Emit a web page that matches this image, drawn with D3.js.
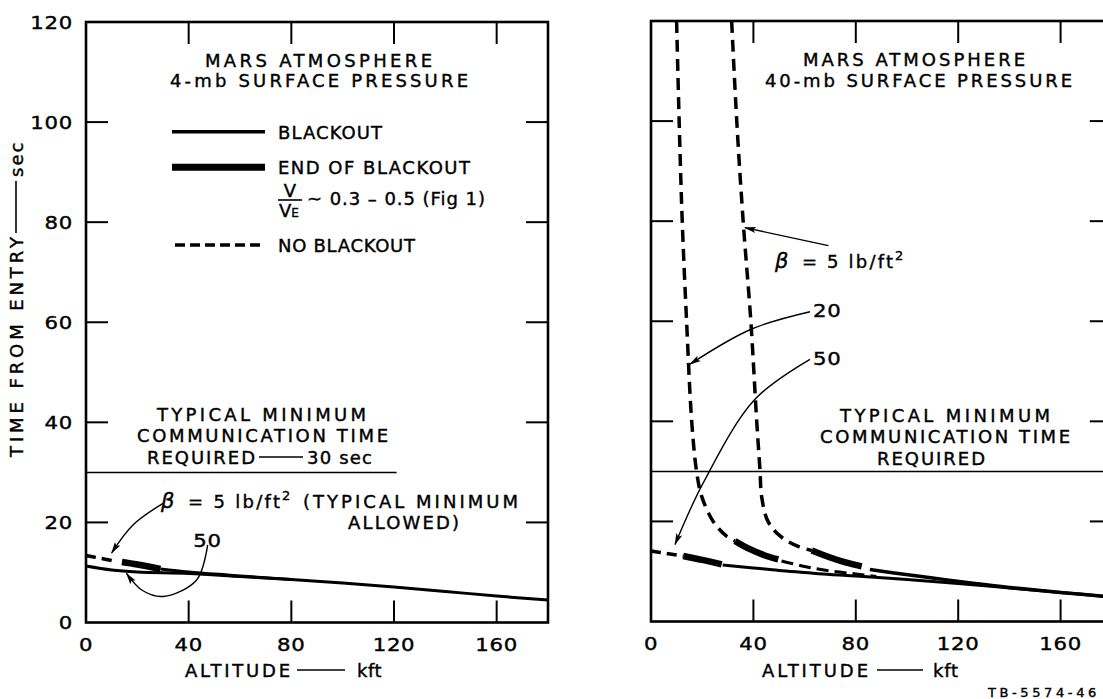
<!DOCTYPE html>
<html><head><meta charset="utf-8">
<script src="https://cdn.jsdelivr.net/npm/d3@7"></script>
<style>
body{margin:0;background:#fff;}
svg text{font-family:"DejaVu Sans",sans-serif;fill:#000;stroke:#000;stroke-width:0.4px;}
</style></head>
<body>
<svg id="chart" width="1103" height="699"></svg>
<script>
// ---------- data ----------
const altitudeTicks = [0, 40, 80, 120, 160];
const altitudeTickLabels = ["0", "40", "80", "120", "160"];
const timeTicks = [0, 20, 40, 60, 80, 100, 120];
const timeTickLabels = ["0", "20", "40", "60", "80", "100", "120"];
const requiredTime = 30;

// Left panel: 4-mb surface pressure  [altitude kft, time s]
const left_b50_blackout = [[0,11.3],[10,10.5],[20,10.1],[40,9.8],[60,9.2],[80,8.6],[100,7.9],[120,7.1],[140,6.2],[160,5.3],[180,4.5]];
const left_b5_noBlackout = [[0,13.4],[6,12.8],[11,12.3]];
const left_b5_endBlackout = [[14,12.1],[20,11.6],[29,10.7]];
const left_b5_blackout = [[29,10.7],[40,10.1],[55,9.5],[70,8.95],[80,8.6]];
const left_requiredLine = [[0,requiredTime],[121,requiredTime]];

// Right panel: 40-mb surface pressure
const right_b5_noBlackout = [[31.5,120],[33.5,100],[36,80],[39,60],[41.3,40],[42.6,30],[43.2,25],[45.7,20],[50.4,17.1],[57,15.1],[62.8,14.2]];
const right_b5_endBlackout = [[62.8,14.2],[70,12.8],[76,11.8],[82.3,11.0]];
const right_b5_blackout = [[85.5,10.4],[95,9.7],[110,8.7],[125,7.7],[140,6.8],[160,5.8],[180,4.9]];
const right_b20_noBlackout = [[10,120],[11,100],[12.2,80],[13.9,60],[15.9,40],[17.8,30],[19.8,25],[24.3,20],[29.6,17],[32.8,16.1]];
const right_b20_endBlackout = [[32.8,16.1],[38,14.6],[44,13.3],[49.7,12.4]];
const right_b20_tail = [[51,12.1],[60,11.0],[70,10.1],[80,9.5],[88,9.0]];
const right_b50_noBlackout = [[0,14.1],[6,13.6],[12.6,13.1]];
const right_b50_endBlackout = [[12.6,13.1],[20,12.3],[27.6,11.4]];
const right_b50_blackout = [[28,11.3],[40,10.7],[50,10.2],[60,9.8],[70,9.4],[80,9.1],[100,8.4],[120,7.6],[140,6.7],[160,5.8],[180,4.9]];
const right_requiredLine = [[0,requiredTime],[180,requiredTime]];

// annotation arrows (data units)
const left_arrow_b5 = [[30,23.8],[18.3,19.5],[10,13.9]];
const left_arrow_50 = [[47.4,15.5],[43.1,8.5],[30.1,5.2],[21.7,6.5],[15.8,9.8]];
const right_arrow_b5 = [[69.3,75.1],[36.7,78.7]];
const right_arrow_20 = [[62.1,61.9],[39.1,58.4],[15.2,51.4]];
const right_arrow_50 = [[62.1,52.4],[40.6,44.4],[20.4,27.7],[9.4,15.4]];

// ---------- drawing ----------
const svg = d3.select("#chart");
const defs = svg.append("defs");
defs.append("marker").attr("id","arrow").attr("viewBox","0 0 12 8")
  .attr("refX",11).attr("refY",4).attr("markerWidth",12).attr("markerHeight",8)
  .attr("markerUnits","userSpaceOnUse").attr("orient","auto")
  .append("path").attr("d","M0,0.8 L12,4 L0,7.2 L2.5,4 Z").attr("fill","#000");

const FS = 18;

function panel(x0, x1, y0, y1) {
  const x = d3.scaleLinear().domain([0,180]).range([x0,x1]);
  const y = d3.scaleLinear().domain([0,120]).range([y0,y1]);
  return {x, y};
}
const L = panel(86, 548, 622.5, 22);
const R = panel(651, 1111.8, 621.5, 21);

// numeric text, slightly widened glyphs like the lettering guide
function num(parent, x, y, s, anchor) {
  return parent.append("text").attr("transform",`translate(${x},${y}) scale(1.18,1)`)
    .attr("font-size",FS).attr("letter-spacing",0.6).attr("text-anchor",anchor||"start").text(s);
}

function frame(p, withYLabels) {
  const g = svg.append("g");
  const [xa,xb] = p.x.range(), [ya,yb] = p.y.range();
  g.append("rect").attr("x",xa).attr("y",yb).attr("width",xb-xa).attr("height",ya-yb)
    .attr("fill","none").attr("stroke","#000").attr("stroke-width",2.6);
  const tl = 22;
  altitudeTicks.filter(d=>d>0).forEach(d=>{
    g.append("line").attr("x1",p.x(d)).attr("x2",p.x(d)).attr("y1",ya).attr("y2",ya-tl).attr("stroke","#000").attr("stroke-width",2);
    g.append("line").attr("x1",p.x(d)).attr("x2",p.x(d)).attr("y1",yb).attr("y2",yb+tl).attr("stroke","#000").attr("stroke-width",2);
  });
  timeTicks.filter(d=>d>0 && d<120).forEach(d=>{
    g.append("line").attr("x1",xa).attr("x2",xa+tl).attr("y1",p.y(d)).attr("y2",p.y(d)).attr("stroke","#000").attr("stroke-width",2);
    g.append("line").attr("x1",xb).attr("x2",xb-tl).attr("y1",p.y(d)).attr("y2",p.y(d)).attr("stroke","#000").attr("stroke-width",2);
  });
  altitudeTicks.forEach((d,i)=>{
    num(g, p.x(d), ya+28, altitudeTickLabels[i], "middle");
  });
  if (withYLabels) {
    timeTicks.forEach((d,i)=>{
      num(g, xa-13, p.y(d)+6.5, timeTickLabels[i], "end");
    });
  }
}
frame(L, true);
frame(R, false);

function curve(p, data, w, dash, curveType) {
  const line = d3.line().x(d=>p.x(d[0])).y(d=>p.y(d[1])).curve(curveType || d3.curveCatmullRom);
  const path = svg.append("path").attr("d", line(data)).attr("fill","none")
    .attr("stroke","#000").attr("stroke-width",w).attr("stroke-linecap","butt");
  if (dash) path.attr("stroke-dasharray", dash);
  return path;
}
function arrow(p, data) {
  curve(p, data, 1.4, null).attr("marker-end","url(#arrow)");
}

// required time lines
curve(L, left_requiredLine, 1.5, null, d3.curveLinear);
curve(R, right_requiredLine, 1.5, null, d3.curveLinear);

// left curves
curve(L, left_b50_blackout, 3);
curve(L, left_b5_blackout, 3);
curve(L, left_b5_noBlackout, 3.5, "10 6");
curve(L, left_b5_endBlackout, 6.5);

// right curves
curve(R, right_b50_blackout, 3);
curve(R, right_b50_noBlackout, 3.5, "10 6");
curve(R, right_b50_endBlackout, 6.5);
curve(R, right_b20_noBlackout, 3.5, "12 7");
curve(R, right_b20_endBlackout, 6.5);
curve(R, right_b20_tail, 3, "12 6");
curve(R, right_b5_noBlackout, 3.5, "12 7");
curve(R, right_b5_endBlackout, 6.5);
curve(R, right_b5_blackout, 3.5);

// arrows
arrow(L, left_arrow_b5);
arrow(L, left_arrow_50);
arrow(R, right_arrow_b5);
arrow(R, right_arrow_20);
arrow(R, right_arrow_50);

// ---------- text ----------
function txt(x, y, s, w, opts={}) {
  const t = svg.append("text").attr("x",x).attr("y",y).attr("font-size",opts.fs||FS).text(s);
  if (w) t.attr("textLength", w).attr("lengthAdjust","spacing");
  if (opts.anchor) t.attr("text-anchor", opts.anchor);
  if (opts.ls !== undefined) t.attr("letter-spacing", opts.ls);
  return t;
}
function hline(x1, x2, y, w) {
  svg.append("line").attr("x1",x1).attr("x2",x2).attr("y1",y).attr("y2",y).attr("stroke","#000").attr("stroke-width",w||1.6);
}
function beta(x, y) {
  svg.append("text").attr("x",x).attr("y",y).attr("font-size",21)
    .attr("font-style","italic").text("β");
}

// left titles
txt(205, 67, "MARS ATMOSPHERE", 227);
txt(170, 87, "4-mb SURFACE PRESSURE", 298);
// legend
hline(172, 265, 131.7, 3.5);
txt(278, 139, "BLACKOUT", 104);
hline(172, 265, 167.3, 7);
txt(278, 174, "END OF BLACKOUT", 192);
txt(290, 197, "V", null, {anchor:"middle"});
hline(278, 302, 200, 1.6);
{
  const t = txt(279, 217, "V");
  t.append("tspan").attr("font-size",12).text("E");
}
txt(307, 205, "~ 0.3 – 0.5 (Fig 1)", 178);
svg.append("line").attr("x1",175).attr("x2",265).attr("y1",245).attr("y2",245)
  .attr("stroke","#000").attr("stroke-width",3.5).attr("stroke-dasharray","10 5");
txt(278, 252, "NO BLACKOUT", 137);

// left annotations
txt(157, 421, "TYPICAL MINIMUM", 209);
txt(137, 442, "COMMUNICATION TIME", 251);
txt(147, 464, "REQUIRED", 108);
hline(259, 303, 457, 1.6);
txt(307, 464, "30 sec", 65);
beta(161, 508);
txt(188, 508, "= 5 lb/ft", 92);
txt(282, 500, "2", null, {fs:13});
txt(303, 508, "(TYPICAL MINIMUM", 215);
txt(348, 529, "ALLOWED)", 111);
num(svg, 207.5, 547, "50", "middle");

// right titles
txt(803, 66, "MARS ATMOSPHERE", 222);
txt(765, 87, "40-mb SURFACE PRESSURE", 307);
beta(775, 268);
txt(802, 268, "=", null);
txt(827, 268, "5 lb/ft", 66);
txt(895, 260, "2", null, {fs:13});
num(svg, 813, 317, "20");
num(svg, 813, 365, "50");
txt(840, 422, "TYPICAL MINIMUM", 210);
txt(820, 443, "COMMUNICATION TIME", 250);
txt(877, 465, "REQUIRED", 108);

// x-axis titles
txt(185, 677, "ALTITUDE", 105);
hline(297, 345, 670, 1.6);
txt(357, 677, "kft", null, {ls:0.5});
txt(762, 677, "ALTITUDE", 106);
hline(877, 923, 670, 1.6);
txt(933, 677, "kft", null, {ls:0.8});

// y-axis title (rotated)
{
  const g = svg.append("g").attr("transform","translate(23,0) rotate(-90)");
  g.append("text").attr("x",-457).attr("y",0).attr("font-size",FS)
    .attr("textLength",220).attr("lengthAdjust","spacing").text("TIME FROM ENTRY");
  g.append("line").attr("x1",-233).attr("x2",-181).attr("y1",-7).attr("y2",-7).attr("stroke","#000").attr("stroke-width",1.6);
  g.append("text").attr("x",-177).attr("y",0).attr("font-size",FS).attr("letter-spacing",2).text("sec");
}

// figure id
txt(988, 697, "TB-5574-46", null, {fs:13, ls:3.6});
</script>
</body></html>
